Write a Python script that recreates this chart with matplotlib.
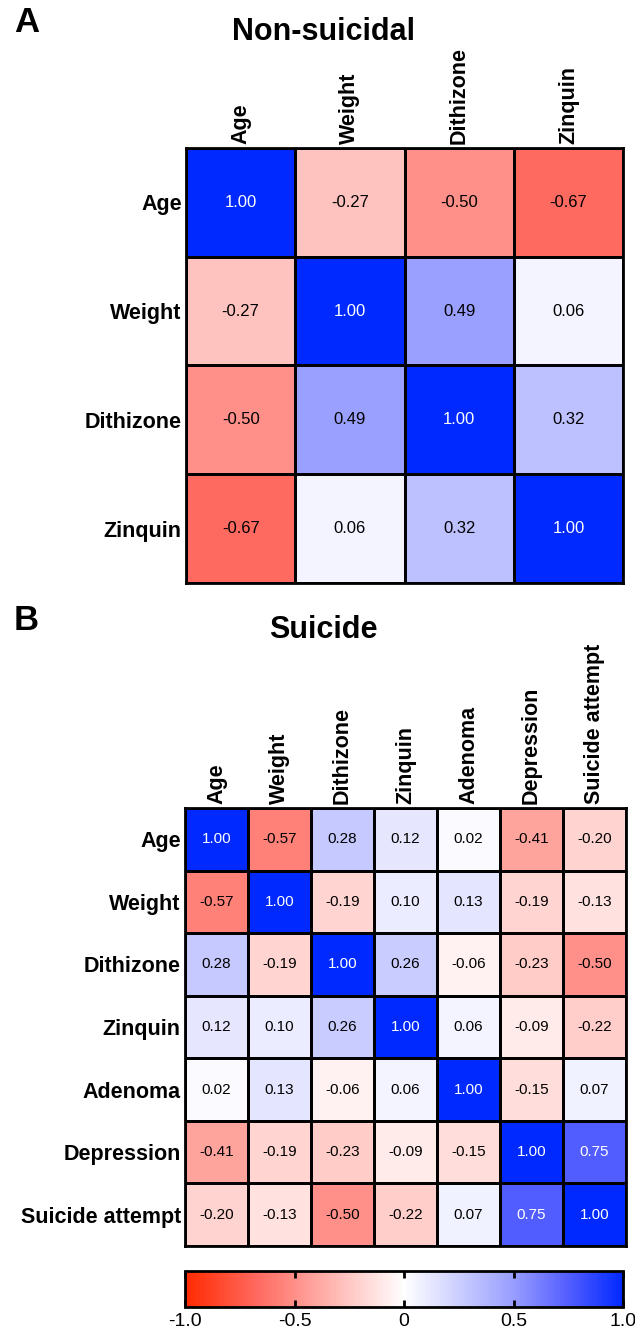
import matplotlib.pyplot as plt
import numpy as np
from matplotlib.colors import LinearSegmentedColormap, Normalize
from matplotlib.cm import ScalarMappable

plt.rcParams['font.family'] = ['Liberation Sans', 'DejaVu Sans']

labels_a = ['Age', 'Weight', 'Dithizone', 'Zinquin']
corr_a = [[1.00, -0.27, -0.50, -0.67],
          [-0.27, 1.00, 0.49, 0.06],
          [-0.50, 0.49, 1.00, 0.32],
          [-0.67, 0.06, 0.32, 1.00]]

labels_b = ['Age', 'Weight', 'Dithizone', 'Zinquin', 'Adenoma', 'Depression', 'Suicide attempt']
corr_b = [[1.00, -0.57, 0.28, 0.12, 0.02, -0.41, -0.20],
          [-0.57, 1.00, -0.19, 0.10, 0.13, -0.19, -0.13],
          [0.28, -0.19, 1.00, 0.26, -0.06, -0.23, -0.50],
          [0.12, 0.10, 0.26, 1.00, 0.06, -0.09, -0.22],
          [0.02, 0.13, -0.06, 0.06, 1.00, -0.15, 0.07],
          [-0.41, -0.19, -0.23, -0.09, -0.15, 1.00, 0.75],
          [-0.20, -0.13, -0.50, -0.22, 0.07, 0.75, 1.00]]

cbar_ticks = [-1.0, -0.5, 0, 0.5, 1.0]
cbar_ticklabels = ['-1.0', '-0.5', '0', '0.5', '1.0']

cmap = LinearSegmentedColormap.from_list('rwb', [
    (0.0, '#FF2A00'), (0.165, '#FF6A60'), (0.5, '#FFFFFF'),
    (0.75, '#989EFF'), (0.875, '#545EFF'), (1.0, '#0029FF')])
norm = Normalize(-1, 1)

W, H = 635, 1332
fig = plt.figure(figsize=(W / 100, H / 100), dpi=100)


def heat(rect, labels, data, title, letter, title_y, num_size):
    data = np.array(data)
    n = len(labels)
    ax = fig.add_axes([rect[0] / W, 1 - rect[3] / H, (rect[2] - rect[0]) / W, (rect[3] - rect[1]) / H])
    ax.pcolormesh(data, cmap=cmap, norm=norm, edgecolors='black', linewidth=1.0)
    ax.set_xlim(0, n)
    ax.set_ylim(n, 0)
    for s in ax.spines.values():
        s.set_linewidth(2)
    ax.set_xticks(np.arange(n) + 0.5)
    ax.set_yticks(np.arange(n) + 0.5)
    ax.set_xticklabels(labels, rotation=90, fontsize=15.5, fontweight='bold')
    ax.set_yticklabels(labels, fontsize=15.5, fontweight='bold')
    ax.xaxis.tick_top()
    ax.tick_params(length=0, pad=3)
    for i in range(n):
        for j in range(n):
            v = data[i, j]
            c = 'white' if v > 0.7 else 'black'
            ax.text(j + 0.5, i + 0.5, f'{v:.2f}', ha='center', va='center', fontsize=num_size, color=c)
    fig.text(323 / W, 1 - title_y / H, title, ha='center', va='center', fontsize=22, fontweight='bold')
    fig.text(14 / W, 1 - (title_y - 9) / H, letter, ha='left', va='center', fontsize=25, fontweight='bold')
    return ax


heat((186, 148, 623, 583), labels_a, corr_a, 'Non-suicidal', 'A', 32, 12)
heat((185, 808, 626, 1246), labels_b, corr_b, 'Suicide', 'B', 630, 11)

cax = fig.add_axes([185 / W, 1 - 1307 / H, 438 / W, 36 / H])
cb = fig.colorbar(ScalarMappable(norm=norm, cmap=cmap), cax=cax, orientation='horizontal')
cb.outline.set_linewidth(2)
cb.set_ticks(cbar_ticks)
cb.set_ticklabels(cbar_ticklabels)
cax.tick_params(direction='in', length=5, width=2, labelsize=14, top=True, pad=4)

fig.savefig('out.png', dpi=100)
